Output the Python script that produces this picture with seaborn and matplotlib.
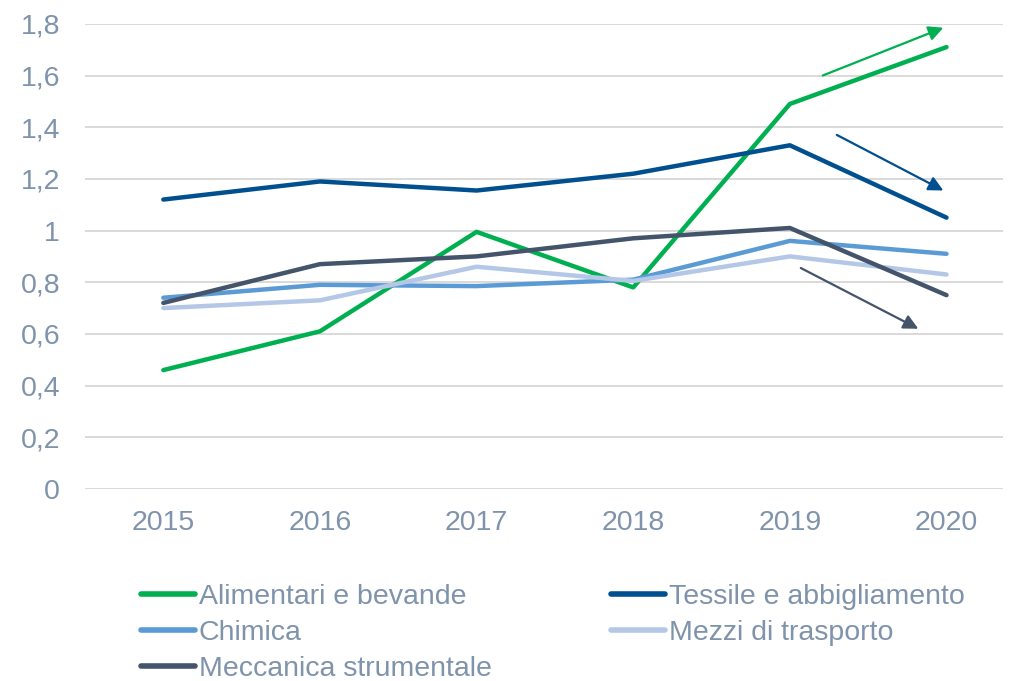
import pandas as pd
import matplotlib.pyplot as plt
import seaborn as sns
from matplotlib.ticker import FuncFormatter

years = [2015, 2016, 2017, 2018, 2019, 2020]
alimentari = [0.46, 0.61, 0.995, 0.78, 1.49, 1.71]
tessile = [1.12, 1.19, 1.155, 1.22, 1.33, 1.05]
chimica = [0.74, 0.79, 0.785, 0.81, 0.96, 0.91]
mezzi = [0.70, 0.73, 0.86, 0.805, 0.90, 0.83]
meccanica = [0.72, 0.87, 0.90, 0.97, 1.01, 0.75]

series = {
    'Alimentari e bevande': alimentari,
    'Tessile e abbigliamento': tessile,
    'Chimica': chimica,
    'Mezzi di trasporto': mezzi,
    'Meccanica strumentale': meccanica,
}
colors = {
    'Alimentari e bevande': '#00B050',
    'Tessile e abbigliamento': '#004F8F',
    'Chimica': '#5B9BD5',
    'Mezzi di trasporto': '#B4C7E7',
    'Meccanica strumentale': '#44546A',
}

rows = []
for name, vals in series.items():
    for yr, v in zip(years, vals):
        rows.append({'anno': yr, 'valore': v, 'settore': name})
df = pd.DataFrame(rows)

sns.set_theme(style="white")
plt.rcParams['font.family'] = ['Liberation Sans', 'DejaVu Sans']
text_col = '#7F93AB'

fig = plt.figure(figsize=(10.12, 6.81), dpi=100)
ax = fig.add_axes([0.084, 0.282, 0.907, 0.683])

sns.lineplot(data=df, x='anno', y='valore', hue='settore', hue_order=list(series.keys()),
             palette=colors, linewidth=3.2, sort=False, ax=ax, solid_capstyle='round',
             legend=True)

ax.set_xlim(2014.5, 2020.36)
ax.set_ylim(0, 1.8)
ax.set_yticks([0, 0.2, 0.4, 0.6, 0.8, 1.0, 1.2, 1.4, 1.6, 1.8])
ax.yaxis.set_major_formatter(FuncFormatter(lambda v, p: f"{v:.1f}".replace('.', ',').replace(',0', '')))
ax.set_xticks(years)
ax.set_xlabel('')
ax.set_ylabel('')
ax.grid(axis='y', color='#D9D9D9', linewidth=1.4)
ax.set_axisbelow(True)
for s in ax.spines.values():
    s.set_visible(False)
ax.tick_params(axis='both', length=0, labelsize=20.5, colors=text_col)
ax.tick_params(axis='y', pad=18)
ax.tick_params(axis='x', pad=15)

# trend arrows
arrows = [
    ((2019.21, 1.60), (2019.98, 1.785), '#00B050'),
    ((2019.30, 1.37), (2019.98, 1.155), '#004F8F'),
    ((2019.07, 0.855), (2019.82, 0.62), '#44546A'),
]
for start, end, c in arrows:
    ax.annotate('', xy=end, xytext=start,
                arrowprops=dict(arrowstyle='-|>', color=c, lw=1.6, mutation_scale=22,
                                shrinkA=0, shrinkB=0))

handles, labels = ax.get_legend_handles_labels()
order = [0, 2, 4, 1, 3]
ax.legend_.remove()
leg = fig.legend([handles[i] for i in order], [labels[i] for i in order],
                 loc='upper left', bbox_to_anchor=(0.139, 0.143), ncol=2,
                 frameon=False, fontsize=20.5, handlelength=1.9, handletextpad=0.14,
                 labelspacing=0.36, columnspacing=4.2, borderpad=0, borderaxespad=0)
for t in leg.get_texts():
    t.set_color(text_col)
for h in leg.get_lines():
    h.set_linewidth(4)

fig.savefig('out.png', dpi=100)
